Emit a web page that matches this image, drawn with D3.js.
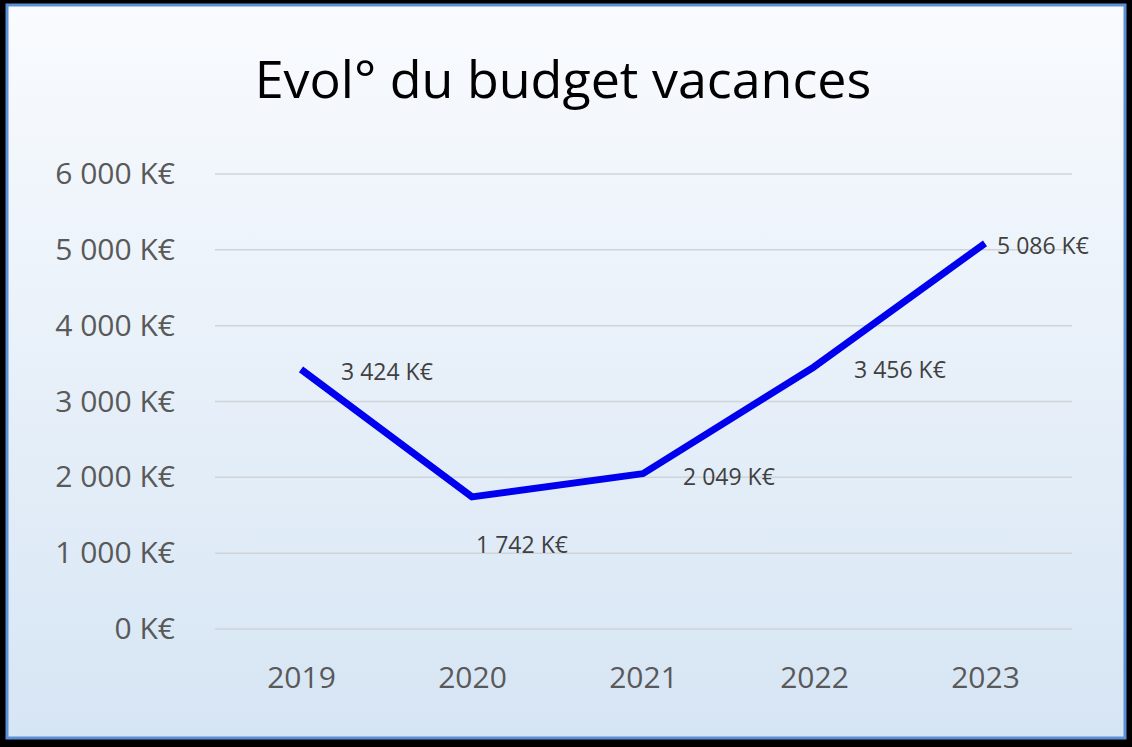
<!DOCTYPE html>
<html lang="fr">
<head>
<meta charset="UTF-8">
<script src="https://d3js.org/d3.v7.min.js"></script>
<style>
  body { margin: 0; background: #000; }
  svg { display: block; }
  text { font-family: "Open Sans", "Noto Sans", sans-serif; }
</style>
</head>
<body>
<svg width="1132" height="747"></svg>
<script>
const years = ['2019', '2020', '2021', '2022', '2023'];
const budget = [3424, 1742, 2049, 3456, 5086];
const yTicks = [0, 1000, 2000, 3000, 4000, 5000, 6000];
const labelPos = ['right', 'below', 'right', 'right', 'right'];

const svg = d3.select('svg');
const defs = svg.append('defs');
const grad = defs.append('linearGradient').attr('id', 'bg').attr('x1', 0).attr('y1', 0).attr('x2', 0).attr('y2', 1);
grad.append('stop').attr('offset', '0%').attr('stop-color', '#f9fbfe');
grad.append('stop').attr('offset', '100%').attr('stop-color', '#d6e5f4');

svg.append('rect').attr('x', 7).attr('y', 5).attr('width', 1118).attr('height', 733)
  .attr('fill', 'url(#bg)').attr('stroke', '#5b8fd6').attr('stroke-width', 3);

svg.append('text').attr('x', 563).attr('y', 98).attr('text-anchor', 'middle')
  .attr('font-size', 52).attr('fill', '#000').text('Evol° du budget vacances');

const fmt = v => d3.format(',')(v).replace(/,/g, ' ') + ' K€';

const x = d3.scalePoint().domain(years).range([301, 985]);
const y = d3.scaleLinear().domain([0, 6000]).range([629, 174]);

const grid = svg.append('g');
grid.selectAll('line').data(yTicks).join('line')
  .attr('x1', 215).attr('x2', 1072)
  .attr('y1', d => y(d)).attr('y2', d => y(d))
  .attr('stroke', '#d0d3d8').attr('stroke-width', 1.5);

const yAxis = svg.append('g').attr('transform', 'translate(215,0)')
  .call(d3.axisLeft(y).tickValues(yTicks).tickFormat(fmt).tickSize(0).tickPadding(40));
yAxis.select('.domain').remove();
yAxis.selectAll('text').attr('font-size', 30).attr('fill', '#595959')
  .attr('font-family', '"Open Sans", sans-serif');

const xAxis = svg.append('g').attr('transform', 'translate(0,629)')
  .call(d3.axisBottom(x).tickSize(0).tickPadding(38));
xAxis.select('.domain').remove();
xAxis.selectAll('text').attr('font-size', 30).attr('fill', '#595959')
  .attr('font-family', '"Open Sans", sans-serif');

const data = years.map((yr, i) => ({ yr, v: budget[i], pos: labelPos[i] }));
svg.append('path').datum(data)
  .attr('fill', 'none').attr('stroke', '#0000ee').attr('stroke-width', 7)
  .attr('stroke-linejoin', 'round')
  .attr('d', d3.line().x(d => x(d.yr)).y(d => y(d.v)));

svg.selectAll('.lbl').data(data).join('text')
  .attr('x', d => d.pos === 'below' ? x(d.yr) + 50 : x(d.yr) + (d.yr === '2023' ? 12 : 40))
  .attr('y', d => d.pos === 'below' ? y(d.v) + 48 : y(d.v) + 3)
  .attr('dy', '0.35em')
  .attr('text-anchor', d => d.pos === 'below' ? 'middle' : 'start')
  .attr('font-size', 23).attr('fill', '#404040')
  .text(d => fmt(d.v));
</script>
</body>
</html>
